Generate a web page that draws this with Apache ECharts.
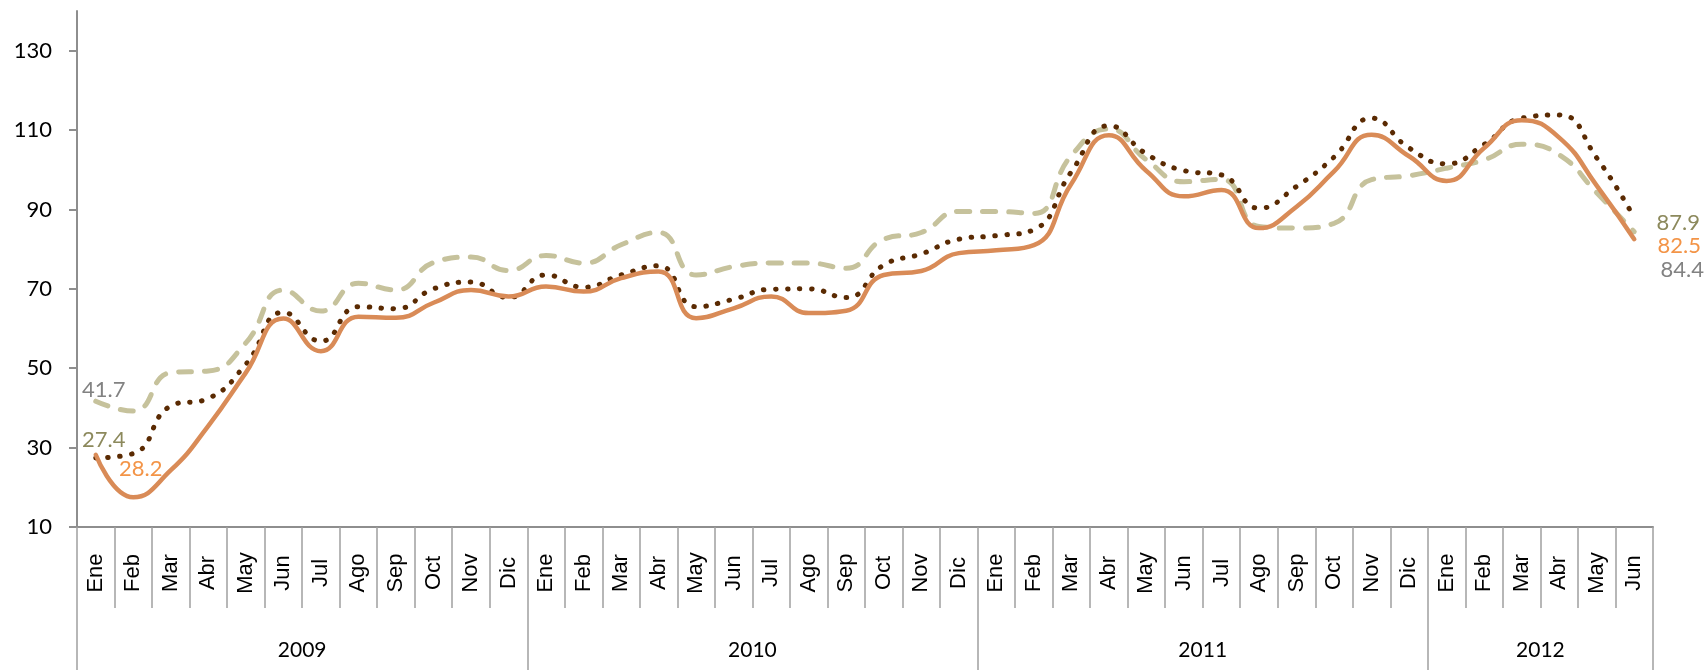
<!DOCTYPE html>
<html>
<head>
<meta charset="utf-8">
<script src="https://cdn.jsdelivr.net/npm/echarts@6/dist/echarts.min.js"></script>
<style>
html, body { margin: 0; padding: 0; background: #fff; }
#main { width: 1705px; height: 670px; }
</style>
</head>
<body>
<div id="main"></div>
<script>
// months shown on the axis, one year block after another
const monthNames = ['Ene', 'Feb', 'Mar', 'Abr', 'May', 'Jun', 'Jul', 'Ago', 'Sep', 'Oct', 'Nov', 'Dic'];
const years = ['2009', '2010', '2011', '2012'];
const monthsPerYear = [12, 12, 12, 6];

// solid orange line
const solidVals = [28.2, 17.5, 24.3, 35.5, 48.9, 62.5, 54.3, 63.0, 62.7, 66.5, 69.7, 68.1,
    70.6, 69.3, 72.7, 74.4, 62.6, 65.1, 68.1, 63.9, 64.5, 73.5, 74.5, 79.0,
    79.7, 81.0, 96.5, 108.7, 99.7, 93.3, 94.9, 85.3, 90.7, 99.6, 108.8, 103.4,
    97.2, 105.5, 112.5, 108.1, 96.0, 82.5];
// dotted brown line
const dottedVals = [27.4, 28.5, 40.5, 42.4, 51.0, 64.1, 56.8, 65.5, 65.0, 70.0, 71.7, 67.8,
    73.5, 70.4, 73.5, 75.8, 65.5, 67.4, 69.9, 70.0, 67.8, 76.0, 78.8, 82.5,
    83.4, 84.9, 99.5, 111.1, 104.0, 99.8, 98.7, 90.3, 95.8, 103.2, 113.0, 105.5,
    101.5, 106.4, 113.0, 113.8, 103.0, 87.9];
// dashed khaki line
const dashedVals = [41.7, 39.2, 48.9, 49.3, 56.4, 69.7, 64.4, 71.4, 69.7, 76.6, 78.0, 74.6,
    78.4, 76.5, 81.1, 84.2, 73.5, 75.6, 76.5, 76.5, 75.2, 82.5, 84.2, 89.5,
    89.5, 89.0, 103.6, 110.3, 102.5, 97.0, 97.6, 85.7, 85.3, 86.5, 97.5, 98.5,
    100.4, 102.5, 106.4, 103.8, 94.2, 84.4];

const yTicks = [10, 30, 50, 70, 90, 110, 130];

// build category keys "Mes|Año"
const categories = [];
const yearStart = [];
years.forEach(function (y, k) {
    yearStart.push(categories.length);
    for (let m = 0; m < monthsPerYear[k]; m++) {
        categories.push(monthNames[m] + '|' + y);
    }
});
// index whose right edge is the middle of each year block
const yearMid = years.map(function (y, k) {
    return yearStart[k] + monthsPerYear[k] / 2 - 1;
});

const numFont = 'Lato';
const gridLeft = 77, gridRight = 52;
const band = (1705 - gridLeft - gridRight) / categories.length;

function withLabels(vals, color, startOff, endOff) {
    return vals.map(function (v, i) {
        if (i === 0 || i === vals.length - 1) {
            return {
                value: v,
                label: {
                    show: true,
                    position: 'inside',
                    color: color,
                    fontFamily: numFont,
                    fontSize: 22,
                    offset: i === 0 ? startOff : endOff
                }
            };
        }
        return v;
    });
}

var myChart = echarts.init(document.getElementById('main'), null, { renderer: 'canvas' });

var option = {
    animation: false,
    backgroundColor: '#ffffff',
    grid: { left: gridLeft, right: gridRight, top: 11, bottom: 143 },
    xAxis: [
        {
            type: 'category',
            data: categories,
            boundaryGap: true,
            position: 'bottom',
            axisLine: { lineStyle: { color: '#8e8e8e', width: 2 } },
            axisTick: { show: true, interval: 0, length: 81, lineStyle: { color: '#a0a0a0', width: 1.5 } },
            axisLabel: {
                interval: 0,
                rotate: 90,
                align: 'center',
                verticalAlign: 'middle',
                margin: 46,
                fontFamily: 'Liberation Sans',
                fontSize: 22,
                color: '#000',
                formatter: function (v) { return v.split('|')[0]; }
            }
        },
        {
            type: 'category',
            data: categories,
            boundaryGap: true,
            position: 'bottom',
            axisLine: { show: false },
            axisTick: {
                show: true,
                length: 143,
                interval: function (i) { return yearStart.indexOf(i) >= 0; },
                lineStyle: { color: '#a0a0a0', width: 1.5 }
            },
            axisLabel: {
                interval: function (i) { return yearMid.indexOf(i) >= 0; },
                margin: 123,
                verticalAlign: 'middle',
                align: 'center',
                padding: [0, 0, 0, band],
                fontFamily: numFont,
                fontSize: 21,
                color: '#000',
                formatter: function (v) { return v.split('|')[1]; }
            }
        }
    ],
    yAxis: {
        type: 'value',
        min: 10,
        max: 140,
        interval: 20,
        axisLine: { show: true, lineStyle: { color: '#8e8e8e', width: 2 } },
        axisTick: { show: true, length: 8, lineStyle: { color: '#8e8e8e', width: 2 } },
        splitLine: { show: false },
        axisLabel: {
            margin: 25,
            fontFamily: numFont,
            fontSize: 22,
            color: '#000',
            showMaxLabel: false,
            formatter: function (v) { return yTicks.indexOf(v) >= 0 ? String(v) : ''; }
        }
    },
    series: [
        {
            type: 'line',
            smooth: 0.5,
            symbol: 'circle',
            symbolSize: 0.1,
            itemStyle: { color: 'transparent' },
            lineStyle: { color: '#c6c29c', width: 5, type: [13, 13], cap: 'round' },
            data: withLabels(dashedVals, '#828282', [8, -11], [48, 38])
        },
        {
            type: 'line',
            smooth: 0.5,
            symbol: 'circle',
            symbolSize: 0.1,
            itemStyle: { color: 'transparent' },
            lineStyle: { color: '#5a2a02', width: 5, type: [0.5, 11.5], cap: 'round' },
            data: withLabels(dottedVals, '#8c895c', [8, -18], [44, 5])
        },
        {
            type: 'line',
            smooth: 0.5,
            symbol: 'circle',
            symbolSize: 0.1,
            itemStyle: { color: 'transparent' },
            lineStyle: { color: '#d98b57', width: 4.5, cap: 'round' },
            data: withLabels(solidVals, '#f39447', [45, 14], [45, 7])
        }
    ]
};

option && myChart.setOption(option);
</script>
</body>
</html>
